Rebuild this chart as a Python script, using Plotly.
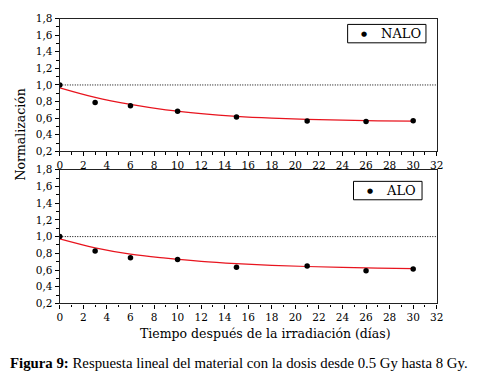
import plotly.graph_objects as go

# Data
days = [0, 3, 6, 10, 15, 21, 26, 30]
nalo = [1.0, 0.79, 0.75, 0.682, 0.615, 0.565, 0.558, 0.567]
alo = [1.0, 0.826, 0.748, 0.725, 0.632, 0.647, 0.59, 0.612]

fit_x = [0, 3, 6, 9, 12, 15, 18, 21, 24, 27, 30]
nalo_fit = [0.965, 0.85, 0.765, 0.70, 0.655, 0.622, 0.60, 0.585, 0.575, 0.568, 0.565]
alo_fit = [0.972, 0.865, 0.79, 0.742, 0.703, 0.676, 0.656, 0.642, 0.631, 0.622, 0.616]

x_ticks = list(range(0, 33, 2))
y_ticks = [0.2, 0.4, 0.6, 0.8, 1.0, 1.2, 1.4, 1.6, 1.8]
series_names = ["NALO", "ALO"]

W, H = 478, 385
FONT = "DejaVu Serif"
CAP_FONT = "Liberation Serif"


def py(p):
    return (H - p) / H


def pxx(p):
    return p / W


fig = go.Figure()

# top panel
fig.add_trace(go.Scatter(x=fit_x, y=nalo_fit, mode="lines",
                         line=dict(color="#e8141e", width=1.2, shape="spline"),
                         showlegend=False, xaxis="x", yaxis="y", hoverinfo="skip"))
fig.add_trace(go.Scatter(x=days, y=nalo, mode="markers", name=series_names[0],
                         marker=dict(color="black", size=5.5), xaxis="x", yaxis="y", showlegend=False))
# bottom panel
fig.add_trace(go.Scatter(x=fit_x, y=alo_fit, mode="lines",
                         line=dict(color="#e8141e", width=1.2, shape="spline"),
                         showlegend=False, xaxis="x2", yaxis="y2", hoverinfo="skip"))
fig.add_trace(go.Scatter(x=days, y=alo, mode="markers", name=series_names[1],
                         marker=dict(color="black", size=5.5), xaxis="x2", yaxis="y2", showlegend=False))

xd = [pxx(58), pxx(443)]
common_x = dict(range=[0, 32], tickvals=x_ticks, ticks="outside", ticklen=4, tickcolor="black", tickwidth=1,
                showline=True, linecolor="#222", linewidth=1.3, mirror=True, showgrid=False, zeroline=False,
                minor=dict(ticks="outside", ticklen=2.5, dtick=1, tickcolor="black"),
                tickfont=dict(family=FONT, size=10.5, color="black"), domain=xd)
common_y = dict(range=[0.2, 1.8], tickvals=y_ticks, tickformat=".1f", ticks="outside", ticklen=4,
                tickcolor="black", tickwidth=1,
                showline=True, linecolor="#222", linewidth=1.3, mirror=True, showgrid=False, zeroline=False,
                minor=dict(ticks="outside", ticklen=2.5, dtick=0.1, tickcolor="black"),
                tickfont=dict(family=FONT, size=10.5, color="black"))

fig.update_layout(
    width=W, height=H, margin=dict(l=0, r=0, t=0, b=0),
    paper_bgcolor="white", plot_bgcolor="white",
    separators=", ",
    font=dict(family=FONT, color="black"),
    xaxis=dict(**common_x, anchor="y"),
    yaxis=dict(**common_y, domain=[py(150), py(13)], anchor="x"),
    xaxis2=dict(**common_x, anchor="y2"),
    yaxis2=dict(**common_y, domain=[py(307), py(169)], anchor="x2"),
    showlegend=False,
)

# dotted reference lines at 1.0
for xr, yr in (("x", "y"), ("x2", "y2")):
    fig.add_shape(type="line", xref=xr, yref=yr, x0=0, x1=32, y0=1.0, y1=1.0,
                  line=dict(color="black", width=1, dash="1px,1.5px"))

# hand-drawn legend boxes
legends = [
    dict(box=(352, 19, 432, 38), dot=(369, 28.5), text=(406, 28.5), name=series_names[0]),
    dict(box=(358, 181, 428, 200), dot=(375, 190.5), text=(407, 190.5), name=series_names[1]),
]
for lg in legends:
    x0, y0, x1, y1 = lg["box"]
    fig.add_shape(type="rect", xref="paper", yref="paper", x0=pxx(x0), x1=pxx(x1), y0=py(y1), y1=py(y0),
                  line=dict(color="black", width=1), fillcolor="white")
    fig.add_annotation(text="●", xref="paper", yref="paper", x=pxx(lg["dot"][0]), y=py(lg["dot"][1]),
                       xanchor="center", yanchor="middle", showarrow=False,
                       font=dict(family=FONT, size=7, color="black"))
    fig.add_annotation(text=lg["name"], xref="paper", yref="paper", x=pxx(lg["text"][0]), y=py(lg["text"][1]),
                       xanchor="center", yanchor="middle", showarrow=False,
                       font=dict(family=FONT, size=13, color="black"))

fig.add_annotation(text="Normalización", xref="paper", yref="paper", x=pxx(18), y=py(133),
                   xanchor="center", yanchor="middle",
                   textangle=-90, showarrow=False, font=dict(family=FONT, size=12.5))
fig.add_annotation(text="Tiempo después de la irradiación (días)", xref="paper", yref="paper",
                   x=pxx(268), y=py(338), xanchor="center", yanchor="middle",
                   showarrow=False, font=dict(family=FONT, size=12.5))
fig.add_annotation(text="<b>Figura 9:</b> Respuesta lineal del material con la dosis desde 0.5 Gy hasta 8 Gy.",
                   xref="paper", yref="paper", x=pxx(241), y=py(369), xanchor="center", yanchor="middle",
                   showarrow=False, font=dict(family=CAP_FONT, size=14.8))

fig.write_html("out.html", config={"displayModeBar": False},
               post_script="document.body.style.margin='0';")
